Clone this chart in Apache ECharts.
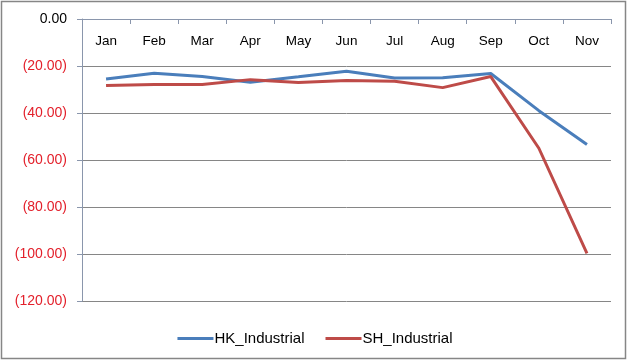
<!DOCTYPE html>
<html>
<head>
<meta charset="utf-8">
<script src="https://cdn.jsdelivr.net/npm/echarts@6/dist/echarts.min.js"></script>
<style>
	html, body { margin: 0; padding: 0; background: #fff; }
	#industrialChart { width: 630px; height: 361px; }
</style>
</head>
<body>
<div id="industrialChart"></div>
<script>
	// months on the category axis
	var months = ['Jan', 'Feb', 'Mar', 'Apr', 'May', 'Jun', 'Jul', 'Aug', 'Sep', 'Oct', 'Nov'];
	// values
	var hkIndustrial = [-25.5, -23.1, -24.5, -26.9, -24.6, -22.2, -25.1, -25.0, -23.2, -39.0, -53.4];
	var shIndustrial = [-28.3, -27.9, -27.9, -25.8, -27.0, -26.2, -26.5, -29.2, -24.5, -55.0, -99.7];
	var seriesNames = ['HK_Industrial', 'SH_Industrial'];

	var chart = echarts.init(document.getElementById('industrialChart'));
	var font = 'Liberation Sans, Arial, sans-serif';

	var option = {
		color: ['#4A7EBB', '#BE4B48'],
		animation: false,
		graphic: [{
			type: 'rect',
			shape: { x: 1.5, y: 1.5, width: 624, height: 357 },
			style: { fill: 'none', stroke: '#868686', lineWidth: 1.5 },
			silent: true
		}],
		legend: {
			data: seriesNames,
			left: 'center',
			top: 326,
			icon: 'rect',
			itemWidth: 36,
			itemHeight: 3,
			itemGap: 21,
			textStyle: { fontFamily: font, fontSize: 15, color: '#000', padding: [0, 0, 0, -4] }
		},
		grid: {
			left: 82,
			right: 19,
			top: 19,
			bottom: 60,
			containLabel: false
		},
		xAxis: {
			type: 'category',
			position: 'top',
			data: months,
			boundaryGap: true,
			axisLine: { lineStyle: { color: '#8A96AC', width: 1 } },
			axisTick: { show: true, inside: true, length: 5, alignWithLabel: false, lineStyle: { color: '#8A96AC' } },
			axisLabel: {
				inside: true,
				margin: 15,
				color: '#000',
				fontFamily: font,
				fontSize: 13.5
			},
			splitLine: { show: false }
		},
		yAxis: {
			type: 'value',
			min: -120,
			max: 0,
			interval: 20,
			axisLine: { show: true, lineStyle: { color: '#8A96AC', width: 1 } },
			axisTick: { show: true, length: 5, lineStyle: { color: '#8A96AC' } },
			axisLabel: {
				margin: 15,
				fontFamily: font,
				fontSize: 14,
				color: function (v) {
					return Number(v) === 0 ? '#000' : '#E3202B';
				},
				formatter: function (v) {
					if (v === 0) return '0.00';
					return '(' + Math.abs(v).toFixed(2) + ')';
				}
			},
			splitLine: { show: true, lineStyle: { color: '#868686', width: 1 } }
		},
		series: [
			{
				name: seriesNames[0],
				type: 'line',
				data: hkIndustrial,
				symbol: 'none',
				lineStyle: { width: 3 }
			},
			{
				name: seriesNames[1],
				type: 'line',
				data: shIndustrial,
				symbol: 'none',
				lineStyle: { width: 3 }
			}
		]
	};
	chart.setOption(option);
</script>
</body>
</html>
